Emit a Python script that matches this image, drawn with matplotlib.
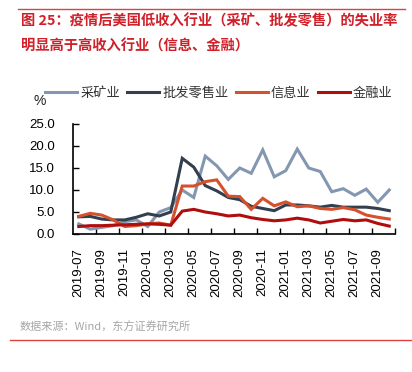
import numpy as np
import matplotlib
matplotlib.use('Agg')
from matplotlib import pyplot as plt
from matplotlib.lines import Line2D

# monthly unemployment rate by industry, %
months = ['2019-07', '2019-08', '2019-09', '2019-10', '2019-11', '2019-12',
          '2020-01', '2020-02', '2020-03', '2020-04', '2020-05', '2020-06',
          '2020-07', '2020-08', '2020-09', '2020-10', '2020-11', '2020-12',
          '2021-01', '2021-02', '2021-03', '2021-04', '2021-05', '2021-06',
          '2021-07', '2021-08', '2021-09', '2021-10']
mining = [2.3, 1.1, 1.5, 1.9, 2.8, 3.2, 1.7, 5.0, 6.0, 10.0, 8.3, 17.7, 15.5, 12.4,
          15.0, 13.8, 19.1, 13.0, 14.4, 19.3, 15.0, 14.2, 9.6, 10.3, 8.8, 10.2, 7.2, 10.0]
wholesale = [3.9, 4.0, 3.4, 3.2, 3.2, 3.8, 4.6, 4.1, 5.0, 17.2, 15.2, 11.0, 9.8, 8.3,
             7.8, 6.3, 5.8, 5.3, 6.6, 6.6, 6.4, 6.1, 6.5, 6.1, 6.1, 6.1, 5.8, 5.3]
information = [4.0, 4.7, 4.3, 3.2, 1.7, 1.9, 2.3, 2.5, 2.0, 10.9, 10.9, 11.9, 12.3, 8.6,
               8.5, 5.6, 8.1, 6.4, 7.3, 6.2, 6.4, 5.8, 5.6, 6.0, 5.5, 4.3, 3.8, 3.4]
finance = [1.7, 1.9, 1.9, 2.0, 2.1, 2.2, 2.3, 2.2, 2.0, 5.2, 5.6, 5.0, 4.6, 4.1,
           4.3, 3.7, 3.3, 3.0, 3.2, 3.6, 3.2, 2.5, 2.9, 3.3, 3.0, 3.2, 2.4, 1.8]

series_names = ['采矿业', '批发零售业', '信息业', '金融业']
colors = ['#8497B0', '#323F4F', '#D5512E', '#B00D0D']

cjk = ['Noto Sans CJK SC', 'DejaVu Sans']
plt.rcParams['font.family'] = ['Liberation Sans', 'Noto Sans CJK SC']

fig = plt.figure(figsize=(4.12, 3.72), dpi=100)
ax = fig.add_axes([73 / 412, 1 - 234 / 372, 322 / 412, 110 / 372])

x = np.arange(len(months)) + 0.5
for vals, name, c in zip([mining, wholesale, information, finance], series_names, colors):
    ax.plot(x, vals, color=c, lw=2.2, label=name, solid_joinstyle='miter')

ax.set_xlim(0, len(months))
ax.set_ylim(0, 25)
ax.set_yticks(np.arange(0, 26, 5))
ax.set_yticklabels(['%.1f' % v for v in np.arange(0, 26, 5)], fontsize=9.5)
ax.tick_params(axis='y', direction='in', length=4, width=1, pad=13)

ax.set_xticks(x[::2])
ax.set_xticklabels(months[::2], rotation=90, fontsize=9.5)
ax.tick_params(axis='x', which='major', length=0, pad=10)
ax.set_xticks(np.arange(2, len(months) + 1, 2), minor=True)
ax.tick_params(axis='x', which='minor', direction='in', length=4, width=1)

for s in ['top', 'right']:
    ax.spines[s].set_visible(False)
for s in ['left', 'bottom']:
    ax.spines[s].set_color('black')
    ax.spines[s].set_linewidth(1.2)

handles = [Line2D([], [], color=c, lw=2.2) for c in colors]
leg = fig.legend(handles, series_names, loc='center', ncol=4, frameon=False,
                 bbox_to_anchor=(219 / 412, 1 - 93 / 372), bbox_transform=fig.transFigure,
                 handlelength=2.4, handletextpad=0.25, columnspacing=0.55,
                 borderpad=0, prop={'family': cjk, 'size': 9.5})
for t in leg.get_texts():
    t.set_color('#333333')

fig.text(40 / 412, 1 - 101 / 372, '%', fontsize=10, ha='center', va='center',
         color='#222222')

# title block
title_red = '#D0202A'
fig.add_artist(Line2D([18 / 412, 405 / 412], [1 - 9 / 372, 1 - 9 / 372],
                      color='#E04040', lw=1.0, transform=fig.transFigure))
fig.text(21 / 412, 1 - 21 / 372, '图 25：疫情后美国低收入行业（采矿、批发零售）的失业率',
         family=cjk, fontsize=10.3, weight='bold', color=title_red, va='center', ha='left')
fig.text(21 / 412, 1 - 46 / 372, '明显高于高收入行业（信息、金融）',
         family=cjk, fontsize=10.3, weight='bold', color=title_red, va='center', ha='left')

fig.text(20 / 412, 1 - 327 / 372, '数据来源：Wind，东方证券研究所', family=cjk,
         fontsize=8, color='#A6A6A6', va='center', ha='left')
fig.add_artist(Line2D([10 / 412, 412 / 412], [1 - 340 / 372, 1 - 340 / 372],
                      color='#E04040', lw=1.0, transform=fig.transFigure))

fig.savefig('out.png', dpi=100)
